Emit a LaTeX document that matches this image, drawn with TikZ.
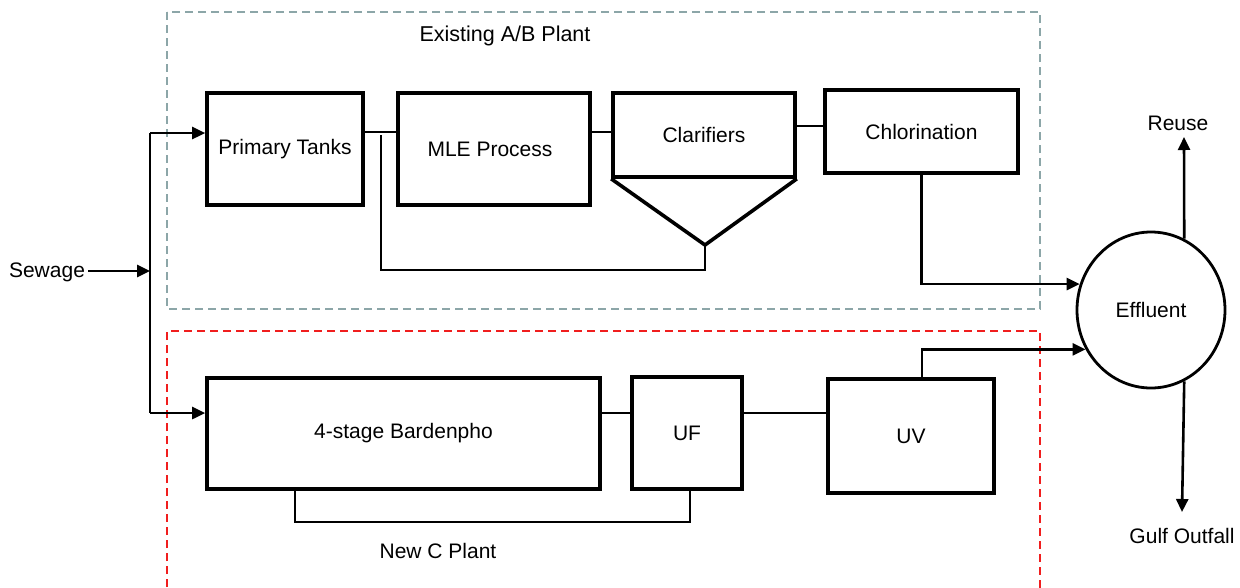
\documentclass[tikz,border=0pt]{standalone}
\usepackage{fontspec}
\setmainfont{Liberation Sans}
\usetikzlibrary{arrows.meta,shapes.geometric}
\definecolor{abgray}{RGB}{140,166,168}
\definecolor{cred}{RGB}{240,30,30}
\begin{document}
\begin{tikzpicture}[x=1pt,y=-1pt,
  every node/.style={font=\fontsize{21}{25}\selectfont},
  box/.style={draw,line width=3.6pt,rectangle,inner sep=0pt},
  conn/.style={draw,line width=2.6pt},
  arr/.style={conn,-{Triangle[length=13pt,width=12pt]}},
  region/.style={line width=1.6pt,dash pattern=on 8pt off 5pt}]
\useasboundingbox (0,0) rectangle (1240,587);
% regions
\draw[region,abgray] (167,12) rectangle (1040,309);
\draw[region,cred] (167,600) -- (167,331) -- (1040,331) -- (1040,600);
\node[font=\fontsize{21.5}{25}\selectfont] (ablbl) at (505,36) {Existing A/B Plant};
\node (clbl) at (438,551) {New C Plant};
% boxes
\node[box,minimum width=156pt,minimum height=112pt] (pt) at (285,149) {\raisebox{-3pt}{Primary Tanks}};
\node[box,minimum width=192pt,minimum height=112pt] (mle) at (494,149) {\hspace*{-8pt}MLE Process};
\node[box,minimum width=182pt,minimum height=84pt] (clar) at (704,135) {Clarifiers};
\node[box,minimum width=193pt,minimum height=83pt] (chl) at (921.5,131.5) {Chlorination};
\node[box,minimum width=393pt,minimum height=111pt] (bard) at (403.5,433.5) {\raisebox{-3pt}{4-stage Bardenpho}};
\node[box,minimum width=110pt,minimum height=112pt] (uf) at (687,433) {UF};
\node[box,minimum width=166pt,minimum height=114pt] (uv) at (911,436) {UV};
\node[draw,ellipse,line width=2.8pt,minimum width=148pt,minimum height=156pt,inner sep=0pt] (eff) at (1151,310) {Effluent};
\node (sew) at (47,272) {Sewage};
\node (reuse) at (1178,123) {Reuse};
\node (gulf) at (1182,536) {Gulf Outfall};
% clarifier hopper
\coordinate (apex) at (705,245);
\draw[line width=3.6pt,line join=miter] (clar.south west) -- (apex) -- (clar.south east);
% inflow split
\coordinate (split) at (150,271);
\coordinate (splitTop) at (150,133);
\coordinate (splitBot) at (150,413);
\draw[arr] (sew.east |- split) -- (split);
\draw[conn] (splitTop) -- (splitBot);
\draw[arr] (splitTop) -- (splitTop -| pt.west);
\draw[arr] (splitBot) -- (splitBot -| bard.west);
% A/B train
\draw[conn] ([yshift=17pt]pt.east) -- ([yshift=17pt]pt.east -| mle.west);
\draw[conn] ([yshift=17pt]mle.east) -- ([yshift=17pt]mle.east -| clar.west);
\draw[conn] ([yshift=9pt]clar.east) -- ([yshift=9pt]clar.east -| chl.west);
\coordinate (ret) at (381,270);
\draw[conn] (apex) |- (ret) -- ([yshift=14pt]ret |- pt.east);
\draw[arr] (chl.south) |- (eff.160);
% C train
\draw[conn] ([yshift=20.5pt]bard.east) -- ([yshift=20.5pt]bard.east -| uf.west);
\draw[conn] ([yshift=20pt]uf.east) -- ([yshift=20pt]uf.east -| uv.west);
\draw[conn] ([xshift=-108.5pt]bard.south) -- ++(0,31) -| ([xshift=3pt]uf.south);
\draw[arr] ([xshift=11pt]uv.north) |- (eff.211);
% outlets
\coordinate (reuseTip) at (1184,137);
\coordinate (gulfTip) at (1182,512);
\draw[arr] (eff.65) -- (reuseTip);
\draw[arr] (eff.295) -- (gulfTip);
\end{tikzpicture}
\end{document}
